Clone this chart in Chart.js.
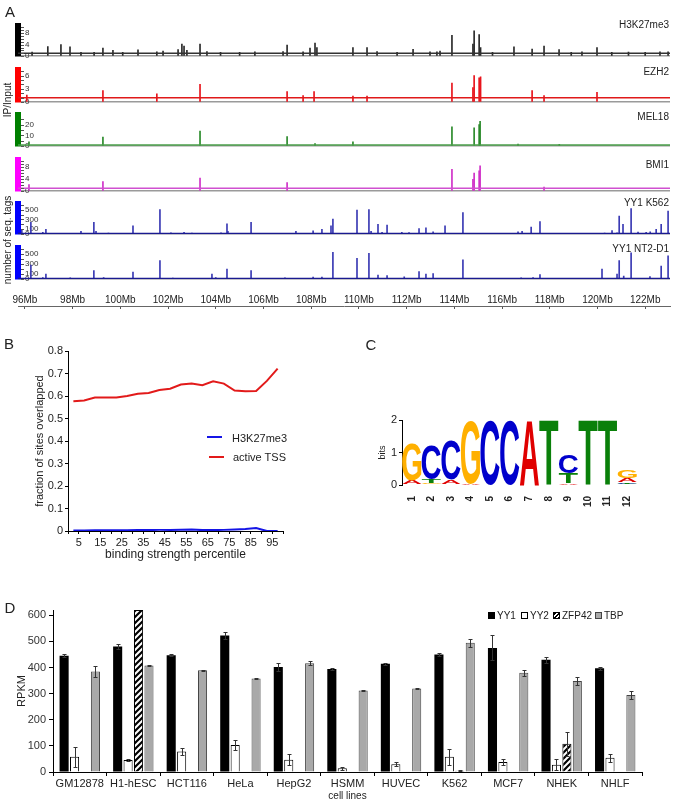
<!DOCTYPE html>
<html><head><meta charset="utf-8">
<script src="https://cdn.jsdelivr.net/npm/chart.js@4.4.0/dist/chart.umd.min.js"></script>
<style>
html,body{margin:0;padding:0;background:#fff;}
#root{position:relative;width:679px;height:802px;overflow:hidden;font-family:"Liberation Sans",Arial,sans-serif;color:#222;}
canvas{position:absolute;}
.t{position:absolute;white-space:nowrap;line-height:1;}
.sw{position:absolute;box-sizing:border-box;}
</style></head><body><div id="root"></div>
<script>
// ---------------- DATA ----------------
// Panel A : genomic tracks (position in Mb, signal)
const mbTicks = [96,98,100,102,104,106,108,110,112,114,116,118,120,122];
const h3Pos = [96.3,96.96,97.51,97.89,98.35,98.9,99.27,99.69,100.1,100.74,101.53,101.79,102.42,102.58,102.67,102.79,103.34,103.63,104.2,105.0,105.64,106.82,106.99,107.66,107.95,108.16,108.24,109.75,110.34,110.76,111.6,112.27,112.98,113.27,113.40,113.90,114.78,114.83,115.04,115.10,115.6,116.50,117.26,117.76,118.39,118.9,119.35,119.98,120.6,121.3,122.0,122.62,122.96];
const h3Val = [1.4,3.3,4.0,3.2,1.3,1.3,2.8,2.0,1.3,2.2,1.5,1.8,2.3,4.2,3.5,2.0,4.2,1.6,1.3,1.3,1.5,1.6,3.8,1.5,2.8,4.5,3.0,3.0,3.0,1.6,1.3,2.4,1.5,1.5,1.8,7.2,4.2,8.8,7.5,3.0,1.3,3.2,2.5,3.5,2.3,1.3,1.5,3.0,1.3,1.4,1.3,1.5,1.5];
const ezPos = [96.08,99.27,101.53,103.34,106.99,107.66,108.12,109.75,110.34,113.90,114.78,114.83,115.04,115.10,117.26,117.76,119.98];
const ezVal = [1.6,2.6,1.9,4.0,2.4,1.5,2.4,1.4,1.4,4.3,3.3,6.0,5.5,5.7,2.6,1.5,2.2];
const melPos = [96.17,99.27,103.34,106.99,108.16,109.75,113.90,114.83,115.04,115.08,116.67,118.4];
const melVal = [4,8.5,14,9,2.5,4,18,17,20,23,2,1.8];
const bmiPos = [96.17,99.27,103.34,106.99,113.90,114.78,114.83,115.04,115.08,117.76];
const bmiVal = [2.2,3.2,4.4,2.9,7.3,4.0,6.1,6.8,8.5,1.4];
const k562Pos = [95.87,96.25,96.75,96.88,98.35,98.89,98.98,99.5,100.53,100.9,101.66,102.12,102.67,103.0,104.22,104.47,104.51,105.48,106.0,107.36,108.08,108.45,108.83,108.91,109.92,110.42,110.51,110.80,110.97,111.18,111.8,112.1,112.52,112.81,113.11,113.61,114.36,115.5,116.67,116.84,117.22,117.59,118.5,119.5,120.3,120.61,120.82,120.91,121.07,121.41,121.7,122.04,122.21,122.46,122.67,122.96];
const k562Val = [100,240,40,100,60,240,60,25,170,20,500,30,40,25,30,210,60,240,20,60,70,100,170,310,490,500,60,200,40,185,40,35,115,130,50,170,440,20,50,60,145,255,20,20,25,75,30,370,200,520,45,40,50,100,200,470];
const nt2Pos = [96.25,96.75,96.88,97.9,98.89,99.3,100.53,101.66,102.2,103.84,104.0,104.47,105.48,106.9,108.08,108.45,108.91,109.92,110.42,110.80,111.18,111.9,112.52,112.81,113.11,114.36,116.8,117.3,117.59,120.19,120.82,120.91,121.1,121.41,122.2,122.67,122.96];
const nt2Val = [280,30,100,25,170,30,140,370,20,100,30,200,170,25,40,40,530,410,510,80,70,45,150,100,110,380,25,30,90,200,100,370,60,520,50,260,460];
const trackBaselines = [1, 1, 1, 1, 12, 12];

// Panel B
const pctBins = [2.5,7.5,12.5,17.5,22.5,27.5,32.5,37.5,42.5,47.5,52.5,57.5,62.5,67.5,72.5,77.5,82.5,87.5,92.5,97.5];
const h3Overlap = [0.002,0.002,0.003,0.003,0.003,0.003,0.004,0.004,0.005,0.005,0.006,0.007,0.004,0.004,0.005,0.007,0.009,0.013,0.0,0.0];
const tssOverlap = [0.577,0.580,0.593,0.593,0.593,0.600,0.610,0.613,0.627,0.632,0.651,0.655,0.648,0.665,0.655,0.624,0.621,0.622,0.667,0.722];
const pctTicks = [0,5,10,15,20,25,30,35,40,45,50,55,60,65,70,75,80,85,90,95,100];
const pctLabels = [5,15,25,35,45,55,65,75,85,95];

// Panel C : sequence logo, layers from bottom to top
const logoPos = ['1','2','3','4','5','6','7','8','9','10','11','12'];
const layer1Letters = ['T','G','T','A','C','C','A','T','A','T','T','C'];
const layer1Bits    = [0.03,0.05,0.03,0.04,2.0,2.0,2.0,2.0,0.05,2.0,2.0,0.04];
const layer2Letters = ['A','T','A','G','','','','','T','','','T'];
const layer2Bits    = [0.12,0.13,0.13,1.93,null,null,null,null,0.32,null,null,0.05];
const layer3Letters = ['G','C','C','','','','','','C','','','A'];
const layer3Bits    = [1.15,1.05,1.22,null,null,null,null,null,0.55,null,null,0.12];
const layer4Letters = ['','','','','','','','','','','','G'];
const layer4Bits    = [null,null,null,null,null,null,null,null,null,null,null,0.25];

// Panel D
const cellLines = ['GM12878','H1-hESC','HCT116','HeLa','HepG2','HSMM','HUVEC','K562','MCF7','NHEK','NHLF'];
const yy1    = [445,480,447,522,402,394,414,450,475,430,397];
const yy1Err = [5,8,3,12,14,3,3,5,48,12,5];
const yy2    = [58,46,78,103,47,14,30,58,38,28,55];
const yy2Err = [37,3,12,20,20,7,7,30,10,22,15];
const zfp42    = [null,620,null,null,null,null,null,5,null,108,null];
const zfp42Err = [0,0,0,0,0,0,0,3,0,45,0];
const tbp    = [385,408,389,358,416,312,320,495,380,348,295];
const tbpErr = [20,3,3,3,8,2,2,15,12,15,15];
const rpkmTicks = [0,100,200,300,400,500,600];

// ---------------- SETUP ----------------
const FONT = '"Liberation Sans", Arial, Helvetica, sans-serif';
Chart.defaults.font.family = FONT;
Chart.defaults.color = '#222';
Chart.defaults.plugins.legend.display = false;
Chart.defaults.plugins.tooltip.enabled = false;
const root = document.getElementById('root');
function addCanvas(left, top, w, h){
  const c = document.createElement('canvas');
  c.width = w; c.height = h;
  c.style.left = left+'px'; c.style.top = top+'px';
  c.style.width = w+'px'; c.style.height = h+'px';
  root.appendChild(c); return c;
}
function addText(txt, x, y, size, mode, extra){
  const d = document.createElement('div');
  d.className = 't'; d.textContent = txt;
  d.style.fontSize = size+'px';
  if (mode === 'right'){ d.style.right = (679-x)+'px'; d.style.top = y+'px'; d.style.transform='translateY(-50%)'; }
  else if (mode === 'left'){ d.style.left = x+'px'; d.style.top = y+'px'; d.style.transform='translateY(-50%)'; }
  else if (mode === 'rot'){ d.style.left = x+'px'; d.style.top = y+'px'; d.style.transform='translate(-50%,-50%) rotate(-90deg)'; }
  else { d.style.left = x+'px'; d.style.top = y+'px'; d.style.transform='translate(-50%,-50%)'; }
  if (extra) Object.assign(d.style, extra);
  root.appendChild(d); return d;
}
const base = {responsive:false, animation:false, devicePixelRatio:1,
  plugins:{legend:{display:false}, tooltip:{enabled:false}}};

// ---------------- PANEL A ----------------
const XMIN = 95.71, XMAX = 123.04;
const trackGeom = [
  {name:'H3K27me3',  top:20,  bottom:62,  max:10.5, major:[0,4,8],         minor:1,   bar:'#000000', spike:'#2a2a2a', line:'#333333', ny:25},
  {name:'EZH2',      top:64,  bottom:108, max:7.3,  major:[0,3,6],         minor:1,   bar:'#ff0000', spike:'#e8141c', line:'#e01a1a', ny:71.5},
  {name:'MEL18',     top:109, bottom:152, max:29,   major:[0,10,20],       minor:5,   bar:'#008000', spike:'#2a8a2a', line:'#4a9f4a', ny:116.5},
  {name:'BMI1',      top:154, bottom:197, max:10.5, major:[0,4,8],         minor:1,   bar:'#ff00ff', spike:'#d030c8', line:'#d050d0', ny:165},
  {name:'YY1 K562',  top:198, bottom:240, max:620,  major:[0,100,300,500], minor:100, bar:'#0000ff', spike:'#3a3ab4', line:'#1a1a90', ny:203},
  {name:'YY1 NT2-D1',top:242, bottom:285, max:620,  major:[0,100,300,500], minor:100, bar:'#0000ff', spike:'#3a3ab4', line:'#1a1a90', ny:249}
];
const trackData = [[h3Pos,h3Val],[ezPos,ezVal],[melPos,melVal],[bmiPos,bmiVal],[k562Pos,k562Val],[nt2Pos,nt2Val]];

function minorTicks(step){
  return {id:'minor', afterDraw(chart){
    const y = chart.scales.y, ctx = chart.ctx, x0 = chart.chartArea.left + 3;
    ctx.save(); ctx.strokeStyle = '#555'; ctx.lineWidth = 1; ctx.beginPath();
    for (let v = 0; v <= y.max + 1e-9; v += step){
      const py = Math.round(y.getPixelForValue(v)) + 0.5;
      ctx.moveTo(x0, py); ctx.lineTo(x0 + 3, py);
    }
    ctx.stroke(); ctx.restore();
  }};
}

trackGeom.forEach((g, k) => {
  const [pos, val] = trackData[k];
  const c = addCanvas(0, g.top - 6, 679, g.bottom - g.top + 12);
  new Chart(c, {
    type:'bar',
    data:{datasets:[
      {type:'bar', data:pos.map((p,i)=>({x:p, y:val[i]})), backgroundColor:g.spike, borderWidth:0, barThickness:1, order:2},
      {type:'line', data:[{x:XMIN, y:trackBaselines[k]},{x:XMAX, y:trackBaselines[k]}], borderColor:g.line, borderWidth:1.5, pointRadius:0, order:1}
    ]},
    options:Object.assign({}, base, {
      layout:{autoPadding:false, padding:{left:0, right:9, top:6, bottom:6}},
      scales:{
        x:{type:'linear', min:XMIN, max:XMAX, offset:false, display:false},
        y:{min:0, max:g.max,
           afterFit:s=>{s.width = 18;},
           afterBuildTicks:s=>{s.ticks = g.major.map(v=>({value:v}));},
           ticks:{mirror:true, padding:7, font:{size:8}, color:'#333'},
           grid:{drawTicks:false, drawOnChartArea:true, lineWidth:1.5,
                 color:ctx=>(ctx.tick && ctx.tick.value===0) ? '#9a9a9a' : 'rgba(0,0,0,0)'},
           border:{display:true, color:g.bar, width:6}}
      }
    }),
    plugins:[minorTicks(g.minor)]
  });
  addText(g.name, 669, g.ny, 10, 'right');
});

// genomic x axis
new Chart(addCanvas(0, 288, 679, 25), {
  type:'line', data:{datasets:[]},
  options:Object.assign({}, base, {
    layout:{autoPadding:false, padding:{left:18, right:9, top:0, bottom:4}},
    scales:{
      x:{type:'linear', position:'top', min:XMIN, max:XMAX, offset:false,
         afterFit:s=>{s.height = 18;},
         afterBuildTicks:s=>{s.ticks = mbTicks.map(v=>({value:v}));},
         ticks:{callback:v=>v+'Mb', font:{size:10}, padding:0, maxRotation:0, autoSkip:false, color:'#222'},
         grid:{drawTicks:false, drawOnChartArea:true, color:'#555', lineWidth:1},
         border:{display:true, color:'#666', width:1}},
      y:{display:false, min:0, max:1}
    }
  })
});
addText('A', 10, 11, 15);
addText('IP/Input', 8, 100, 10, 'rot');
addText('number of seq. tags', 8, 240, 10, 'rot');

// ---------------- PANEL B ----------------
new Chart(addCanvas(0, 330, 300, 240), {
  type:'line',
  data:{datasets:[
    {label:'H3K27me3', data:pctBins.map((p,i)=>({x:p, y:h3Overlap[i]})), borderColor:'#1515e6', borderWidth:2, pointRadius:0, tension:0},
    {label:'active TSS', data:pctBins.map((p,i)=>({x:p, y:tssOverlap[i]})), borderColor:'#e21a1a', borderWidth:2, pointRadius:0, tension:0}
  ]},
  options:Object.assign({}, base, {
    layout:{autoPadding:false, padding:{left:29, top:21, right:17, bottom:4}},
    scales:{
      x:{type:'linear', min:0, max:100,
         afterFit:s=>{s.height = 35;},
         afterBuildTicks:s=>{s.ticks = pctTicks.map(v=>({value:v}));},
         ticks:{callback:v=>pctLabels.includes(v) ? String(v) : '', font:{size:11}, padding:2, maxRotation:0, autoSkip:false, color:'#222'},
         grid:{drawOnChartArea:false, tickLength:3, color:'#000'},
         border:{color:'#000', width:1},
         title:{display:true, text:'binding strength percentile', font:{size:12}, padding:{top:4, bottom:4}, color:'#222'}},
      y:{min:0, max:0.8,
         afterFit:s=>{s.width = 39;},
         ticks:{stepSize:0.1, callback:v=>Math.abs(v)<1e-9 ? '0' : v.toFixed(1), font:{size:11}, padding:2, color:'#222'},
         grid:{drawOnChartArea:false, tickLength:3, color:'#000'},
         border:{color:'#000', width:1},
         title:{display:true, text:'fraction of sites overlapped', font:{size:11}, padding:{top:4, bottom:4}, color:'#222'}}
    }
  })
});
addText('B', 9, 343, 15);
// legend B
const lb1 = document.createElement('div'); lb1.className='sw';
Object.assign(lb1.style, {left:'207px', top:'436px', width:'15px', height:'2px', background:'#1515e6'}); root.appendChild(lb1);
const lb2 = document.createElement('div'); lb2.className='sw';
Object.assign(lb2.style, {left:'209px', top:'456px', width:'15px', height:'2px', background:'#e21a1a'}); root.appendChild(lb2);
addText('H3K27me3', 232, 437.5, 11, 'left');
addText('active TSS', 233, 457, 11, 'left');

// ---------------- PANEL C ----------------
const letterColors = {A:'#e00000', C:'#0000cc', G:'#ffb000', T:'#0a800a'};
const logoPlugin = {id:'logo', afterDatasetsDraw(chart){
  const ctx = chart.ctx;
  chart.data.datasets.forEach((ds, di) => {
    const meta = chart.getDatasetMeta(di);
    meta.data.forEach((el, i) => {
      const L = ds.letters[i], v = ds.data[i];
      if (!L || !v) return;
      const p = el.getProps(['x','y','base','width'], true);
      const h = p.base - p.y; if (h < 0.4) return;
      ctx.save();
      ctx.font = 'bold 100px ' + FONT;
      const m = ctx.measureText(L);
      const mw = m.actualBoundingBoxLeft + m.actualBoundingBoxRight;
      const mh = m.actualBoundingBoxAscent + m.actualBoundingBoxDescent;
      ctx.translate(p.x - p.width/2, p.y);
      ctx.scale(p.width / mw, h / mh);
      ctx.fillStyle = letterColors[L];
      ctx.textAlign = 'left'; ctx.textBaseline = 'alphabetic';
      ctx.fillText(L, m.actualBoundingBoxLeft, m.actualBoundingBoxAscent);
      ctx.restore();
    });
  });
}};
const clear = 'rgba(0,0,0,0)';
new Chart(addCanvas(340, 400, 339, 120), {
  type:'bar',
  data:{labels:logoPos, datasets:[
    {data:layer1Bits, letters:layer1Letters, backgroundColor:clear, barPercentage:0.98, categoryPercentage:1},
    {data:layer2Bits, letters:layer2Letters, backgroundColor:clear, barPercentage:0.98, categoryPercentage:1},
    {data:layer3Bits, letters:layer3Letters, backgroundColor:clear, barPercentage:0.98, categoryPercentage:1},
    {data:layer4Bits, letters:layer4Letters, backgroundColor:clear, barPercentage:0.98, categoryPercentage:1}
  ]},
  options:Object.assign({}, base, {
    layout:{autoPadding:false, padding:{left:33, top:20, right:42, bottom:0}},
    scales:{
      x:{stacked:true, afterFit:s=>{s.height = 35;},
         grid:{display:false}, border:{display:false},
         ticks:{minRotation:90, maxRotation:90, font:{size:10, weight:'bold'}, padding:3, color:'#222', autoSkip:false}},
      y:{stacked:true, min:0, max:2, afterFit:s=>{s.width = 29;},
         ticks:{stepSize:1, font:{size:11}, padding:2, color:'#222'},
         grid:{drawOnChartArea:false, tickLength:3, color:'#000'},
         border:{color:'#000', width:1},
         title:{display:true, text:'bits', font:{size:9}, padding:{top:4, bottom:4}, color:'#222'}}
    }
  }),
  plugins:[logoPlugin]
});
addText('C', 371, 344, 15);

// ---------------- PANEL D ----------------
function hatch(){
  const c = document.createElement('canvas'); c.width = 6; c.height = 6;
  const g = c.getContext('2d');
  g.fillStyle = '#fff'; g.fillRect(0,0,6,6);
  g.strokeStyle = '#000'; g.lineWidth = 2.2; g.beginPath();
  g.moveTo(-1,7); g.lineTo(7,-1); g.moveTo(-1,1); g.lineTo(1,-1); g.moveTo(5,7); g.lineTo(7,5);
  g.stroke();
  return g.createPattern(c, 'repeat');
}
const errPlugin = {id:'err', afterDatasetsDraw(chart){
  const ctx = chart.ctx, ys = chart.scales.y;
  chart.data.datasets.forEach((ds, di) => {
    if (!ds.errors) return;
    const meta = chart.getDatasetMeta(di);
    meta.data.forEach((el, i) => {
      const v = ds.data[i], e = ds.errors[i];
      if (v == null || !e) return;
      const x = Math.round(el.x) + 0.5;
      const y1 = Math.round(ys.getPixelForValue(v + e)) + 0.5;
      const y2 = Math.round(ys.getPixelForValue(Math.max(0, v - e))) + 0.5;
      ctx.save(); ctx.strokeStyle = '#333'; ctx.lineWidth = 1; ctx.beginPath();
      ctx.moveTo(x, y1); ctx.lineTo(x, y2);
      ctx.moveTo(x-2, y1); ctx.lineTo(x+2, y1);
      ctx.moveTo(x-2, y2); ctx.lineTo(x+2, y2);
      ctx.stroke(); ctx.restore();
    });
  });
}};
const barOpts = {categoryPercentage:0.78, barPercentage:0.87};
new Chart(addCanvas(0, 590, 679, 212), {
  type:'bar',
  data:{labels:cellLines, datasets:[
    Object.assign({label:'YY1', data:yy1, errors:yy1Err, backgroundColor:'#000', borderColor:'#000', borderWidth:0}, barOpts),
    Object.assign({label:'YY2', data:yy2, errors:yy2Err, backgroundColor:'#fff', borderColor:'#000', borderWidth:1}, barOpts),
    Object.assign({label:'ZFP42', data:zfp42, errors:zfp42Err, backgroundColor:hatch(), borderColor:'#000', borderWidth:1}, barOpts),
    Object.assign({label:'TBP', data:tbp, errors:tbpErr, backgroundColor:'#a9a9a9', borderColor:'#444', borderWidth:1}, barOpts)
  ]},
  options:Object.assign({}, base, {
    layout:{autoPadding:false, padding:{left:11, top:20, right:37, bottom:0}},
    scales:{
      x:{afterFit:s=>{s.height = 30;},
         ticks:{font:{size:11}, padding:1, maxRotation:0, autoSkip:false, color:'#222'},
         grid:{offset:true, drawOnChartArea:false, tickLength:4, color:'#000'},
         border:{color:'#000', width:1},
         title:{display:true, text:'cell lines', font:{size:10}, padding:{top:0, bottom:0}, color:'#222'}},
      y:{min:0, max:620, afterFit:s=>{s.width = 42;},
         afterBuildTicks:s=>{s.ticks = rpkmTicks.map(v=>({value:v}));},
         ticks:{font:{size:11}, padding:3, color:'#333'},
         grid:{drawOnChartArea:false, tickLength:4, color:'#000'},
         border:{color:'#000', width:1},
         title:{display:true, text:'RPKM', font:{size:11}, padding:{top:4, bottom:4}, color:'#222'}}
    }
  }),
  plugins:[errPlugin]
});
addText('D', 10, 607, 15);
// legend D
function swatch(x, style){
  const d = document.createElement('div'); d.className = 'sw';
  Object.assign(d.style, {left:x+'px', top:'612px', width:'7px', height:'7px'}, style);
  root.appendChild(d);
}
swatch(488, {background:'#000'});
addText('YY1', 497, 615.5, 10, 'left');
swatch(521, {background:'#fff', border:'1px solid #000'});
addText('YY2', 530, 615.5, 10, 'left');
swatch(553, {background:'repeating-linear-gradient(135deg,#000 0 1.5px,#fff 1.5px 3px)', border:'1px solid #000'});
addText('ZFP42', 562, 615.5, 10, 'left');
swatch(595, {background:'#a9a9a9', border:'1px solid #444'});
addText('TBP', 604, 615.5, 10, 'left');
</script></body></html>
